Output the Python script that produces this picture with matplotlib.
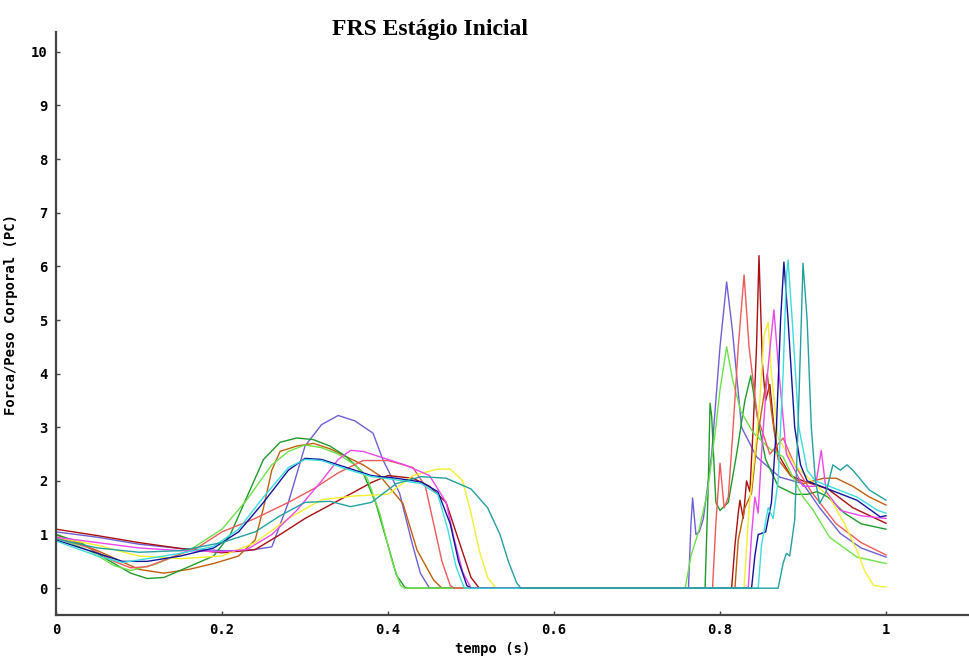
import matplotlib
matplotlib.use("Agg")
import matplotlib.pyplot as plt

# ---- data (time in s, force in body weights) ----
sb_t = [0, 0.05, 0.1, 0.15, 0.2, 0.23, 0.26, 0.28, 0.3, 0.32, 0.34, 0.36, 0.382, 0.394, 0.414, 0.429, 0.439, 0.45,
        0.762, 0.765, 0.767, 0.771, 0.775, 0.78, 0.79, 0.8, 0.808, 0.815, 0.826, 0.844, 0.872, 0.9, 0.92, 0.945, 0.97, 1.0]
sb_v = [1.05, 0.95, 0.82, 0.74, 0.7, 0.7, 0.77, 1.6, 2.65, 3.05, 3.22, 3.12, 2.89, 2.39, 1.77, 0.84, 0.28, 0.0,
        0.0, 1.2, 1.68, 1.0, 1.05, 1.3, 2.5, 4.5, 5.71, 4.8, 3.0, 2.45, 2.07, 1.95, 1.5, 1.02, 0.75, 0.58]

dr_t = [0, 0.05, 0.1, 0.15, 0.2, 0.24, 0.27, 0.3, 0.33, 0.36, 0.38, 0.4, 0.43, 0.45, 0.47, 0.485, 0.5, 0.51,
        0.814, 0.818, 0.822, 0.824, 0.828, 0.832, 0.836, 0.84, 0.844, 0.847, 0.851, 0.855, 0.86, 0.865, 0.87, 0.885, 0.9, 0.93, 0.96, 1.0]
dr_v = [1.1, 0.98, 0.85, 0.74, 0.66, 0.72, 1.0, 1.3, 1.55, 1.8, 1.97, 2.1, 2.05, 1.9, 1.6, 0.9, 0.2, 0.0,
        0.0, 0.8, 1.4, 1.64, 1.3, 2.0, 1.8, 3.0, 4.5, 6.2, 4.2, 3.5, 3.8, 3.0, 2.5, 2.1, 2.0, 1.85, 1.5, 1.21]

br_t = [0, 0.05, 0.1, 0.13, 0.16, 0.19, 0.22, 0.24, 0.25, 0.26, 0.27, 0.29, 0.31, 0.33, 0.35, 0.37, 0.39, 0.418, 0.435, 0.455, 0.465,
        0.818, 0.822, 0.83, 0.838, 0.845, 0.852, 0.857, 0.862, 0.87, 0.885, 0.9, 0.925, 0.94, 0.96, 0.98, 1.0]
br_v = [1.0, 0.7, 0.35, 0.28, 0.35, 0.46, 0.6, 0.9, 1.5, 2.2, 2.55, 2.65, 2.7, 2.6, 2.45, 2.3, 2.1, 1.58, 0.71, 0.15, 0.0,
        0.0, 0.9, 1.5, 1.77, 2.8, 3.5, 4.0, 3.3, 2.4, 2.1, 1.95, 2.05, 2.05, 1.9, 1.7, 1.55]

dg_t = [0, 0.03, 0.06, 0.09, 0.11, 0.13, 0.16, 0.19, 0.21, 0.23, 0.25, 0.27, 0.29, 0.31, 0.33, 0.35, 0.37, 0.385, 0.4, 0.41, 0.42, 0.425,
        0.782, 0.786, 0.788, 0.79, 0.795, 0.8, 0.81, 0.82, 0.83, 0.837, 0.845, 0.855, 0.87, 0.89, 0.905, 0.917, 0.93, 0.95, 0.97, 1.0]
dg_v = [1.0, 0.85, 0.55, 0.28, 0.18, 0.2, 0.4, 0.6, 1.0, 1.7, 2.4, 2.72, 2.8, 2.77, 2.65, 2.45, 2.15, 1.6, 0.8, 0.25, 0.02, 0.0,
        0.0, 2.0, 3.45, 3.2, 1.6, 1.45, 1.6, 2.5, 3.5, 3.96, 3.2, 2.4, 1.9, 1.75, 1.75, 1.8, 1.7, 1.4, 1.2, 1.1]

lg_t = [0, 0.04, 0.07, 0.09, 0.12, 0.16, 0.2, 0.23, 0.26, 0.28, 0.3, 0.32, 0.34, 0.36, 0.375, 0.39, 0.405, 0.415, 0.42,
        0.758, 0.765, 0.775, 0.785, 0.795, 0.8, 0.808, 0.815, 0.825, 0.84, 0.86, 0.876, 0.89, 0.9, 0.912, 0.932, 0.965, 1.0]
lg_v = [0.95, 0.7, 0.42, 0.33, 0.45, 0.7, 1.1, 1.65, 2.3, 2.55, 2.67, 2.62, 2.5, 2.3, 2.05, 1.4, 0.5, 0.05, 0.0,
        0.0, 0.6, 1.1, 1.8, 3.0, 3.7, 4.5, 3.9, 3.3, 2.9, 2.6, 2.45, 2.0, 1.7, 1.46, 0.95, 0.58, 0.46]

sa_t = [0, 0.04, 0.07, 0.09, 0.11, 0.14, 0.17, 0.2, 0.24, 0.28, 0.31, 0.34, 0.37, 0.4, 0.43, 0.445, 0.455, 0.465, 0.475, 0.48,
        0.791, 0.795, 0.8, 0.805, 0.81, 0.815, 0.822, 0.829, 0.835, 0.845, 0.86, 0.876, 0.89, 0.91, 0.94, 0.97, 1.0]
sa_v = [0.95, 0.75, 0.5, 0.38, 0.4, 0.58, 0.75, 1.05, 1.3, 1.6, 1.85, 2.15, 2.38, 2.38, 2.25, 1.9, 1.2, 0.5, 0.05, 0.0,
        0.0, 1.2, 2.33, 1.5, 1.7, 2.8, 4.5, 5.84, 4.5, 3.2, 2.5, 2.8, 2.3, 1.8, 1.2, 0.85, 0.62]

ye_t = [0, 0.05, 0.1, 0.15, 0.2, 0.24, 0.28, 0.32, 0.36, 0.4, 0.43, 0.46, 0.475, 0.49, 0.5, 0.51, 0.52, 0.53,
        0.829, 0.835, 0.842, 0.848, 0.853, 0.858, 0.862, 0.87, 0.89, 0.91, 0.932, 0.95, 0.965, 0.975, 0.985, 1.0]
ye_v = [0.95, 0.8, 0.6, 0.55, 0.6, 0.85, 1.3, 1.65, 1.72, 1.75, 2.1, 2.22, 2.22, 2.0, 1.4, 0.7, 0.2, 0.0,
        0.0, 1.5, 2.5, 3.5, 4.7, 4.96, 4.0, 2.8, 2.3, 2.0, 1.7, 1.2, 0.7, 0.3, 0.05, 0.02]

ma_t = [0, 0.05, 0.1, 0.15, 0.2, 0.23, 0.26, 0.29, 0.32, 0.34, 0.355, 0.37, 0.39, 0.42, 0.45, 0.47, 0.48, 0.49, 0.5,
        0.834, 0.838, 0.842, 0.846, 0.85, 0.856, 0.861, 0.865, 0.87, 0.88, 0.9, 0.915, 0.922, 0.928, 0.945, 0.97, 1.0]
ma_v = [0.95, 0.85, 0.75, 0.7, 0.68, 0.72, 1.0, 1.45, 2.0, 2.4, 2.57, 2.55, 2.45, 2.3, 2.1, 1.6, 0.9, 0.3, 0.0,
        0.0, 1.0, 1.7, 1.4, 2.5, 3.8, 4.6, 5.19, 4.2, 2.5, 1.9, 1.9, 2.57, 1.8, 1.45, 1.35, 1.3]

nv_t = [0, 0.05, 0.08, 0.11, 0.15, 0.19, 0.22, 0.25, 0.28, 0.3, 0.32, 0.35, 0.38, 0.41, 0.44, 0.46, 0.475, 0.485, 0.495, 0.5,
        0.838, 0.842, 0.846, 0.855, 0.862, 0.868, 0.873, 0.877, 0.882, 0.89, 0.897, 0.905, 0.93, 0.965, 0.993, 1.0]
nv_v = [0.9, 0.65, 0.5, 0.5, 0.6, 0.75, 1.05, 1.6, 2.2, 2.42, 2.4, 2.25, 2.1, 2.05, 1.98, 1.8, 1.2, 0.5, 0.05, 0.0,
        0.0, 0.6, 1.0, 1.05, 1.6, 3.0, 5.0, 6.08, 5.0, 3.0, 2.3, 2.0, 1.85, 1.64, 1.33, 1.35]

cy_t = [0, 0.05, 0.08, 0.11, 0.15, 0.19, 0.22, 0.25, 0.28, 0.3, 0.32, 0.35, 0.38, 0.41, 0.44, 0.46, 0.472, 0.482, 0.492,
        0.846, 0.85, 0.858, 0.864, 0.87, 0.876, 0.88, 0.882, 0.887, 0.895, 0.905, 0.915, 0.94, 0.965, 0.99, 1.0]
cy_v = [0.88, 0.6, 0.48, 0.55, 0.65, 0.78, 1.1, 1.7, 2.25, 2.4, 2.38, 2.22, 2.08, 2.02, 1.95, 1.75, 1.1, 0.4, 0.0,
        0.0, 0.8, 1.5, 1.3, 2.0, 4.0, 5.8, 6.12, 5.0, 3.0, 2.2, 2.0, 1.85, 1.7, 1.45, 1.4]

te_t = [0, 0.05, 0.1, 0.15, 0.2, 0.24, 0.27, 0.3, 0.33, 0.355, 0.38, 0.41, 0.44, 0.47, 0.5, 0.52, 0.535, 0.545, 0.555, 0.56,
        0.87, 0.876, 0.88, 0.884, 0.89, 0.894, 0.898, 0.9, 0.905, 0.91, 0.915, 0.92, 0.928, 0.936, 0.945, 0.953, 0.96, 0.98, 1.0]
te_v = [0.92, 0.75, 0.67, 0.7, 0.85, 1.05, 1.35, 1.6, 1.62, 1.52, 1.6, 1.95, 2.08, 2.05, 1.85, 1.5, 1.0, 0.5, 0.1, 0.0,
        0.0, 0.46, 0.65, 0.6, 1.27, 3.0, 5.0, 6.06, 5.0, 3.0, 2.0, 1.58, 1.8, 2.3, 2.2, 2.3, 2.2, 1.83, 1.64]

series = [
    (sb_t, sb_v, "#6f5fd6"),
    (dr_t, dr_v, "#a80f0f"),
    (br_t, br_v, "#c0600f"),
    (dg_t, dg_v, "#1f9a2a"),
    (lg_t, lg_v, "#6ee04a"),
    (sa_t, sa_v, "#ee5a5a"),
    (ye_t, ye_v, "#f2f030"),
    (ma_t, ma_v, "#ea48ea"),
    (nv_t, nv_v, "#10149a"),
    (cy_t, cy_v, "#3ddcdc"),
    (te_t, te_v, "#24a0a0"),
]

x_ticks = [0, 0.2, 0.4, 0.6, 0.8, 1.0]
x_tick_labels = ["0", "0.2", "0.4", "0.6", "0.8", "1"]
y_ticks = list(range(0, 11))

fig = plt.figure(figsize=(9.69, 6.6), dpi=100)
ax = fig.add_axes([56 / 969, 1 - 615 / 660, 1 - 56 / 969, (615 - 32) / 660])

for t, v, c in series:
    ax.plot(t, v, color=c, lw=1.0)

ax.set_xlim(0, 1.1)
ax.set_ylim(-0.5, 10.37)
ax.set_xticks(x_ticks)
ax.set_xticklabels(x_tick_labels)
ax.set_yticks(y_ticks)

for s in ("top", "right"):
    ax.spines[s].set_visible(False)
for s in ("left", "bottom"):
    ax.spines[s].set_color("#444444")
    ax.spines[s].set_linewidth(1.6)

mono = {"family": "DejaVu Sans Mono", "weight": "bold", "size": 10}
ax.tick_params(axis="both", direction="in", length=3, width=1, color="#444444", pad=6)
for lab in ax.get_xticklabels() + ax.get_yticklabels():
    lab.set_fontfamily("DejaVu Sans Mono")
    lab.set_fontweight("bold")
    lab.set_fontsize(10)

ax.set_xlabel("tempo (s)", fontdict=mono, x=(493 - 56) / (969 - 56), labelpad=3)
ax.set_ylabel("Forca/Peso Corporal (PC)", fontdict={"family": "DejaVu Sans Mono", "weight": "bold", "size": 10})
ax.yaxis.set_label_coords((18 - 56) / (969 - 56), (615 - 315) / (615 - 32))
fig.text(430 / 969, 1 - 30 / 660, "FRS Estágio Inicial", ha="center", va="center",
         fontfamily="Liberation Serif", fontweight="bold", fontsize=17)

fig.savefig("out.png", dpi=100)
